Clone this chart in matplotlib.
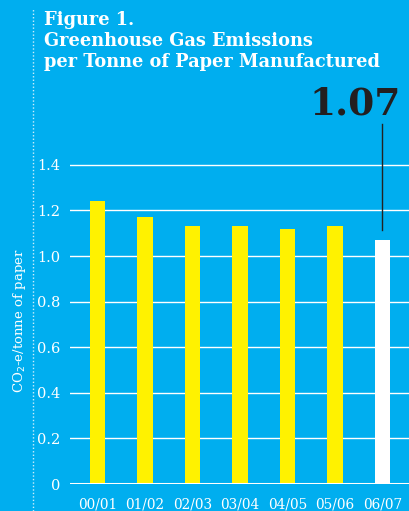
import matplotlib.pyplot as plt
from matplotlib.lines import Line2D

# Emissions per tonne of paper, by financial year
years = ["00/01", "01/02", "02/03", "03/04", "04/05", "05/06", "06/07"]
emissions = [1.24, 1.17, 1.13, 1.13, 1.12, 1.13, 1.07]
yticks = [0, 0.2, 0.4, 0.6, 0.8, 1.0, 1.2, 1.4]
ytick_labels = ["0", "0.2", "0.4", "0.6", "0.8", "1.0", "1.2", "1.4"]

blue = "#00aeef"
yellow = "#fff200"
serif = "DejaVu Serif"

fig = plt.figure(figsize=(4.09, 5.11), dpi=100, facecolor=blue)
ax = fig.add_axes([70 / 409, 27 / 511, 339 / 409, 404 / 511], facecolor=blue)

colors = [yellow] * (len(years) - 1) + ["white"]
x = list(range(len(years)))
ax.bar(x, emissions, width=0.32, color=colors, zorder=3)

ax.set_xlim(-0.58, len(years) - 0.44)
ax.set_ylim(0, 1.772)
ax.set_yticks(yticks)
ax.set_yticklabels(ytick_labels)
ax.set_xticks(x)
ax.set_xticklabels(years)

for y in yticks[1:]:
    ax.axhline(y, color="white", lw=1.0, zorder=1)
ax.axhline(0, color="white", lw=2.2, zorder=4)

for s in ax.spines.values():
    s.set_visible(False)
ax.tick_params(axis="both", length=0, colors="white", labelsize=10.5)
ax.tick_params(axis="x", labelsize=9.8, pad=10)
ax.tick_params(axis="y", pad=7)
for lbl in ax.get_xticklabels() + ax.get_yticklabels():
    lbl.set_family(serif)

ax.set_ylabel("CO$_2$-e/tonne of paper", color="white", family=serif,
              fontsize=9.5)
ax.yaxis.set_label_coords(-0.125, 0.405)

# callout for the latest year
last = emissions[-1]
ax.plot([x[-1], x[-1]], [last + 0.045, last + 0.51], color="#222222", lw=1.0, zorder=5)
ax.text(x[-1] - 0.58, last + 0.515, f"{last:.2f}", ha="center", va="bottom",
        fontsize=27, fontweight="bold", family=serif, color="#231f20")

# dotted rule down the left margin
fig.add_artist(Line2D([33 / 409, 33 / 409], [0, 1 - 8 / 511], color="white",
                      lw=1.0, ls=(0, (1, 1.5)), alpha=0.8))

fig.text(44 / 409, 1 - 11 / 511,
         "Figure 1.\nGreenhouse Gas Emissions\nper Tonne of Paper Manufactured",
         ha="left", va="top", color="white", fontsize=12.8, fontweight="bold",
         family=serif, linespacing=1.2)

fig.savefig("out.png", dpi=100, facecolor=blue)
